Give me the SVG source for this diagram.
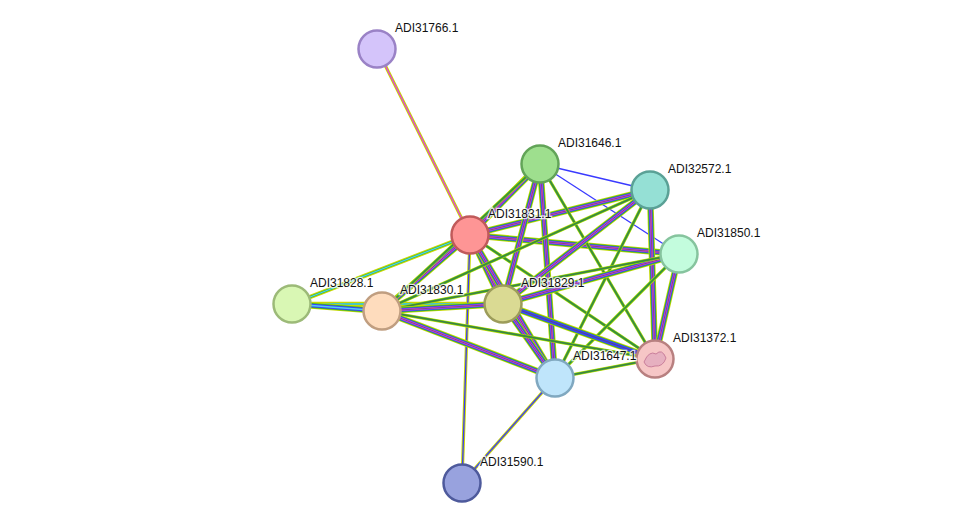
<svg xmlns="http://www.w3.org/2000/svg" xmlns:xlink="http://www.w3.org/1999/xlink" width="975" height="529" viewBox="0 0 975 529">
<style>
.y{stroke:#c8d800;stroke-width:6.5;fill:none}
.g{stroke:#2fb52f;stroke-width:5;fill:none}
.b{stroke:#4040ff;stroke-width:3.5;fill:none}
.m{stroke:#e040e0;stroke-width:2;fill:none}
.k{stroke:#555;stroke-width:0.7;fill:none}
.y2{stroke:#c8d800;stroke-width:3.2;fill:none}
.m2{stroke:#e040e0;stroke-width:1.4;fill:none}
.b1{stroke:#3a3aff;stroke-width:1.3;fill:none}
.c{stroke:#50d0f0;stroke-width:1.3;fill:none}
.g5{stroke:#2fb52f;stroke-width:2.2;fill:none}
.y6{stroke:#c8d800;stroke-width:4.5;fill:none}
.n circle{stroke-width:2.5}
text{font-family:"Liberation Sans",Arial,sans-serif;font-size:12px;fill:#111;stroke:#fff;stroke-width:2.5;paint-order:stroke;stroke-opacity:0.8}
</style>
<defs>
<path id="a1" d="M470,235 L540,164"/><path id="a2" d="M470,235 L650,190"/><path id="a3" d="M470,235 L679,254"/>
<path id="a4" d="M470,235 L382,311"/><path id="a5" d="M470,235 L503,304"/><path id="a6" d="M470,235 L555,378"/>
<path id="a7" d="M470,235 L655,359"/>
<path id="b1" d="M540,164 L503,304"/><path id="b2" d="M540,164 L555,378"/><path id="b3" d="M540,164 L655,359"/><path id="b4" d="M540,164 L382,311"/>
<path id="c1" d="M650,190 L503,304"/><path id="c2" d="M650,190 L555,378"/><path id="c3" d="M650,190 L655,359"/><path id="c4" d="M650,190 L382,311"/>
<path id="d1" d="M679,254 L503,304"/><path id="d2" d="M679,254 L555,378"/><path id="d3" d="M679,254 L655,359"/><path id="d4" d="M679,254 L382,311"/>
<path id="e1" d="M503,304 L382,311"/><path id="e2" d="M503,304 L555,378"/><path id="e3" d="M503,304 L655,359"/>
<path id="f1" d="M382,311 L555,378"/><path id="f2" d="M382,311 L655,359"/><path id="f3" d="M382,311 L292,304"/>
<path id="h1" d="M555,378 L655,359"/>
</defs>
<g id="connectors">
<line class="y2" x1="470" y1="235" x2="377" y2="49"/><line class="m2" x1="470" y1="235" x2="377" y2="49"/>
<line class="y6" x1="470" y1="235" x2="292" y2="304"/><line class="g5" x1="470" y1="235" x2="292" y2="304"/><line class="c" x1="470" y1="235" x2="292" y2="304"/>
<line class="y6" x1="503" y1="304" x2="292" y2="304"/><line class="g5" x1="503" y1="304" x2="292" y2="304"/><line class="c" x1="503" y1="304" x2="292" y2="304"/>
<line class="y2" x1="470" y1="235" x2="462" y2="483"/><line class="b1" x1="470" y1="235" x2="462" y2="483"/>
<line class="y2" x1="555" y1="378" x2="462" y2="483"/><line class="b1" x1="555" y1="378" x2="462" y2="483"/>
<line class="b1" x1="540" y1="164" x2="650" y2="190"/><line class="b1" x1="540" y1="164" x2="679" y2="254"/>
<g id="full">
<use href="#a1" class="y"/><use href="#a1" class="g"/><use href="#a1" class="b"/><use href="#a1" class="m"/><use href="#a1" class="k"/>
<use href="#a2" class="y"/><use href="#a2" class="g"/><use href="#a2" class="b"/><use href="#a2" class="m"/><use href="#a2" class="k"/>
<use href="#a3" class="y"/><use href="#a3" class="g"/><use href="#a3" class="b"/><use href="#a3" class="m"/><use href="#a3" class="k"/>
<use href="#a4" class="y"/><use href="#a4" class="g"/><use href="#a4" class="b"/><use href="#a4" class="m"/><use href="#a4" class="k"/>
<use href="#a5" class="y"/><use href="#a5" class="g"/><use href="#a5" class="b"/><use href="#a5" class="m"/><use href="#a5" class="k"/>
<use href="#a6" class="y"/><use href="#a6" class="g"/><use href="#a6" class="b"/><use href="#a6" class="m"/><use href="#a6" class="k"/>
<use href="#a7" class="y2"/><use href="#a7" class="g5"/><use href="#a7" class="k"/>
<use href="#b1" class="y"/><use href="#b1" class="g"/><use href="#b1" class="b"/><use href="#b1" class="m"/><use href="#b1" class="k"/>
<use href="#b2" class="y"/><use href="#b2" class="g"/><use href="#b2" class="b"/><use href="#b2" class="m"/><use href="#b2" class="k"/>
<use href="#b3" class="y2"/><use href="#b3" class="g5"/><use href="#b3" class="k"/>
<use href="#b4" class="y2"/><use href="#b4" class="g5"/><use href="#b4" class="k"/>
<use href="#c1" class="y"/><use href="#c1" class="g"/><use href="#c1" class="b"/><use href="#c1" class="m"/><use href="#c1" class="k"/>
<use href="#c2" class="y2"/><use href="#c2" class="g5"/><use href="#c2" class="k"/>
<use href="#c3" class="y"/><use href="#c3" class="g"/><use href="#c3" class="b"/><use href="#c3" class="m"/><use href="#c3" class="k"/>
<use href="#c4" class="y2"/><use href="#c4" class="g5"/><use href="#c4" class="k"/>
<use href="#d1" class="y"/><use href="#d1" class="g"/><use href="#d1" class="b"/><use href="#d1" class="m"/><use href="#d1" class="k"/>
<use href="#d2" class="y2"/><use href="#d2" class="g5"/><use href="#d2" class="k"/>
<use href="#d3" class="y"/><use href="#d3" class="g"/><use href="#d3" class="b"/><use href="#d3" class="m"/><use href="#d3" class="k"/>
<use href="#d4" class="y2"/><use href="#d4" class="g5"/><use href="#d4" class="k"/>
<use href="#e1" class="y"/><use href="#e1" class="g"/><use href="#e1" class="b"/><use href="#e1" class="m"/><use href="#e1" class="k"/>
<use href="#e2" class="y"/><use href="#e2" class="g"/><use href="#e2" class="b"/><use href="#e2" class="m"/><use href="#e2" class="k"/>
<use href="#e3" class="y"/><use href="#e3" class="g"/><use href="#e3" class="b"/><use href="#e3" class="k"/>
<use href="#f1" class="y"/><use href="#f1" class="g"/><use href="#f1" class="b"/><use href="#f1" class="m"/><use href="#f1" class="k"/>
<use href="#f2" class="y2"/><use href="#f2" class="g5"/><use href="#f2" class="k"/>
<use href="#f3" class="y"/><use href="#f3" class="g"/><use href="#f3" class="b"/><use href="#f3" class="c"/>
<use href="#h1" class="y2"/><use href="#h1" class="g5"/><use href="#h1" class="k"/>
</g>
</g>
<g class="n">
<g id="ADI31766.1"><circle cx="377" cy="49" r="18.5" fill="#d4c4fa" stroke="#9a82c6"/><text x="395" y="32">ADI31766.1</text></g>
<g id="ADI31646.1"><circle cx="540" cy="164" r="18.5" fill="#9edf8e" stroke="#62a458"/><text x="558" y="147">ADI31646.1</text></g>
<g id="ADI32572.1"><circle cx="650" cy="190" r="18.5" fill="#95e0d5" stroke="#5aa196"/><text x="668" y="173">ADI32572.1</text></g>
<g id="ADI31831.1"><circle cx="470" cy="235" r="18.5" fill="#fe9595" stroke="#c05a5a"/><text x="488" y="218">ADI31831.1</text></g>
<g id="ADI31850.1"><circle cx="679" cy="254" r="18.5" fill="#c3fcdd" stroke="#86c49e"/><text x="697" y="237">ADI31850.1</text></g>
<g id="ADI31828.1"><circle cx="292" cy="304" r="18.5" fill="#d9f7b4" stroke="#9cba78"/><text x="310" y="287">ADI31828.1</text></g>
<g id="ADI31830.1"><circle cx="382" cy="311" r="18.5" fill="#fedcbd" stroke="#c09e80"/><text x="400" y="294">ADI31830.1</text></g>
<g id="ADI31829.1"><circle cx="503" cy="304" r="18.5" fill="#dada93" stroke="#9c9c5a"/><text x="521" y="287">ADI31829.1</text></g>
<g id="ADI31372.1"><circle cx="655" cy="359" r="18.5" fill="#f6c6c6" stroke="#b88080"/><path d="M644,362 q5,-12 12,-8 q6,-6 10,4 q-3,9 -11,8 q-8,3 -11,-4z" fill="#e6b0c0" stroke="#c07090" stroke-width="0.8"/><text x="673" y="342">ADI31372.1</text></g>
<g id="ADI31647.1"><circle cx="555" cy="378" r="18.5" fill="#bfe5fb" stroke="#80a8c0"/><text x="573" y="360">ADI31647.1</text></g>
<g id="ADI31590.1"><circle cx="462" cy="483" r="18.5" fill="#98a2de" stroke="#4e5a9c"/><text x="480" y="466">ADI31590.1</text></g>
</g>
</svg>
